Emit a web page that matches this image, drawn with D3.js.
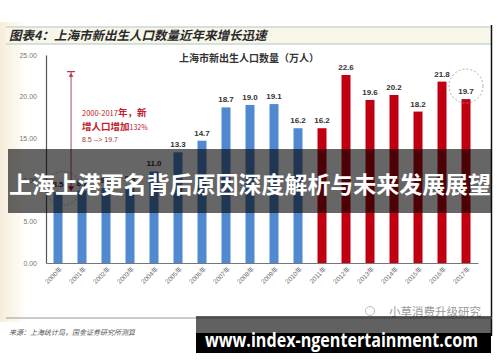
<!doctype html>
<html>
  <head>
    <meta charset="utf-8">
    <title>上海市新出生人口数量</title>
    <script src="https://cdnjs.cloudflare.com/ajax/libs/d3/7.8.5/d3.min.js"></script>
    <style>
      body { margin: 0; background: #fff; }
      svg { display: block; }
    </style>
  </head>
  <body>
    <div id="chart"></div>
    <script>
      // data (万人)
      const years = ['2000年','2001年','2002年','2003年','2004年','2005年','2006年','2007年','2008年',
                     '2009年','2010年','2011年','2012年','2013年','2014年','2015年','2016年','2017年'];
      const births = [8.5, 8.7, 9.0, 9.3, 11.0, 13.3, 14.7, 18.7, 19.0, 19.1, 16.2, 16.2, 22.6, 19.6, 20.2, 18.2, 21.8, 19.7];
      const yTicks = [0, 5, 10, 15, 20, 25];
      const redFrom = '2011年';
      const circled = ['2000年', '2017年'];

      const W = 500, H = 362;
      const svg = d3.select('#chart').append('svg')
        .attr('width', W).attr('height', H);

      // left warm edge
      const grad = svg.append('defs').append('linearGradient').attr('id', 'edge');
      grad.append('stop').attr('offset', '0%').attr('stop-color', '#f6ecda');
      grad.append('stop').attr('offset', '100%').attr('stop-color', '#fffdf8');
      svg.append('rect').attr('x', 0).attr('y', 22).attr('width', 24).attr('height', 300).attr('fill', 'url(#edge)');

      // title band
      svg.append('rect').attr('x', 6).attr('y', 27).attr('width', 486).attr('height', 17).attr('fill', '#f7f6e8');
      svg.append('line').attr('x1', 6).attr('x2', 492).attr('y1', 27).attr('y2', 27).attr('stroke', '#c9d9d2').attr('stroke-width', 1.5);
      svg.append('line').attr('x1', 6).attr('x2', 492).attr('y1', 44).attr('y2', 44).attr('stroke', '#c9d9d2').attr('stroke-width', 1.5);
      svg.append('text').attr('x', 9).attr('y', 40)
        .text('图表4：上海市新出生人口数量近年来增长迅速')
        .style('font-family', '"Noto Sans CJK SC"').style('font-size', '12.5px')
        .style('font-style', 'italic').style('font-weight', 'bold').style('fill', '#2a2a2a');

      // right border line
      svg.append('line').attr('x1', 491.5).attr('x2', 491.5).attr('y1', 25).attr('y2', 336)
        .attr('stroke', '#111').attr('stroke-width', 1.5);

      // scales
      const x = d3.scaleBand().domain(years).range([46, 478]).paddingInner(0.625).paddingOuter(0.3125);
      const y = d3.scaleLinear().domain([0, 25]).range([263, 55]);

      // chart title
      svg.append('text').attr('x', 249).attr('y', 62).attr('text-anchor', 'middle')
        .text('上海市新出生人口数量（万人）')
        .style('font-family', '"Noto Sans CJK SC"').style('font-size', '10px')
        .style('font-weight', 'bold').style('fill', '#333');

      // y axis
      const yAxis = svg.append('g').attr('transform', 'translate(46,0)')
        .call(d3.axisLeft(y).tickValues(yTicks).tickFormat(d3.format('.2f')).tickSize(0).tickPadding(9));
      yAxis.select('.domain').attr('stroke', '#555').attr('stroke-width', 1.2);
      yAxis.selectAll('text').style('font-family', 'Arial, "Liberation Sans"').style('font-size', '7px').style('fill', '#777');

      // bars
      const redIdx = years.indexOf(redFrom);
      svg.selectAll('rect.bar').data(births).join('rect').attr('class', 'bar')
        .attr('x', (d, i) => x(years[i]))
        .attr('y', d => y(d))
        .attr('width', x.bandwidth())
        .attr('height', d => y(0) - y(d))
        .attr('fill', (d, i) => i >= redIdx ? '#c00010' : '#5089d0');

      // value labels
      svg.selectAll('text.val').data(births).join('text').attr('class', 'val')
        .attr('x', (d, i) => x(years[i]) + x.bandwidth() / 2)
        .attr('y', d => y(d) - 5)
        .attr('text-anchor', 'middle')
        .text(d => d.toFixed(1))
        .style('font-family', 'Arial, "Liberation Sans"').style('font-size', '8px')
        .style('font-weight', 'bold').style('fill', '#333');

      // x axis
      const xAxis = svg.append('g').attr('transform', `translate(0,${y(0)})`)
        .call(d3.axisBottom(x).tickSize(0).tickPadding(4));
      xAxis.select('.domain').attr('stroke', '#777').attr('stroke-width', 1.2);
      xAxis.selectAll('text')
        .attr('text-anchor', 'end')
        .attr('transform', 'rotate(-45)')
        .attr('dx', '-0.2em').attr('dy', '0.6em')
        .style('font-family', 'Arial, "Noto Sans CJK SC"').style('font-size', '6.5px').style('fill', '#6f6f6f');

      // dashed circles round first and last values
      svg.selectAll('circle.hl').data(circled).join('circle').attr('class', 'hl')
        .attr('cx', d => x(d) + x.bandwidth() / 2 + (d === years[0] ? 5 : 0))
        .attr('cy', d => y(births[years.indexOf(d)]) - (d === years[0] ? 4 : 13))
        .attr('r', 17)
        .attr('fill', 'none').attr('stroke', '#999').attr('stroke-width', 0.8).attr('stroke-dasharray', '2,2');

      // growth arrow
      const ax = x(years[0]) + x.bandwidth() * 1.95;
      svg.append('line').attr('x1', ax).attr('x2', ax).attr('y1', y(23)).attr('y2', y(births[0]) - 4)
        .attr('stroke', '#9b5060').attr('stroke-width', 1);
      svg.append('line').attr('x1', ax - 4).attr('x2', ax + 4).attr('y1', y(23)).attr('y2', y(23))
        .attr('stroke', '#c03040').attr('stroke-width', 1.2);
      svg.append('path').attr('d', `M${ax - 2.5},${y(23) + 5}L${ax + 2.5},${y(23) + 5}L${ax},${y(23) + 1.5}Z`).attr('fill', '#c03040');
      svg.append('path').attr('d', `M${ax - 3},${y(births[0]) - 6}L${ax + 3},${y(births[0]) - 6}L${ax},${y(births[0]) - 1}Z`).attr('fill', '#c01030');

      // annotation text
      const note = svg.append('g').style('font-family', '"Noto Sans CJK SC"').style('fill', '#c0202c').style('font-weight', 'bold');
      note.append('text').attr('x', 82).attr('y', 116)
        .html('<tspan font-size="7.5px" font-weight="normal">2000-2017</tspan><tspan font-size="9.5px">年，新</tspan>');
      note.append('text').attr('x', 82).attr('y', 130)
        .html('<tspan font-size="9.5px">增人口增加</tspan><tspan font-size="7px" font-weight="normal">132%</tspan>');
      svg.append('text').attr('x', 82).attr('y', 142).text('8.5 --> 19.7')
        .style('font-family', 'Arial, "Liberation Sans"').style('font-size', '7px').style('fill', '#9a3a30');

      // footer
      svg.append('line').attr('x1', 6).attr('x2', 492).attr('y1', 318).attr('y2', 318).attr('stroke', '#999').attr('stroke-width', 1);
      svg.append('text').attr('x', 9).attr('y', 335).text('来源：上海统计局，国金证券研究所测算')
        .style('font-family', '"Noto Sans CJK SC"').style('font-size', '7px').style('font-style', 'italic').style('fill', '#555');
      svg.append('text').attr('x', 389).attr('y', 316).text('小草消费升级研究')
        .style('font-family', '"Noto Sans CJK SC"').style('font-size', '11.5px').style('fill', '#999');
      svg.append('circle').attr('cx', 370).attr('cy', 311).attr('r', 4.5).attr('fill', 'none').attr('stroke', '#bbb');

      // overlay banner
      svg.append('rect').attr('x', 8).attr('y', 149).attr('width', 484).attr('height', 64).attr('fill', 'rgba(0,0,0,0.6)');
      svg.append('text').attr('x', 250).attr('y', 193).attr('text-anchor', 'middle')
        .text('上海上港更名背后原因深度解析与未来发展展望')
        .attr('textLength', 482).attr('lengthAdjust', 'spacingAndGlyphs')
        .style('font-family', '"Noto Sans CJK SC"').style('font-size', '23px')
        .style('font-weight', 'bold').style('fill', '#fff');

      // url box
      svg.append('rect').attr('x', 196).attr('y', 316).attr('width', 295).attr('height', 17).attr('fill', 'rgba(0,0,0,0.62)');
      svg.append('rect').attr('x', 196).attr('y', 333).attr('width', 295).attr('height', 20).attr('fill', '#000');
      svg.append('text').attr('x', 205).attr('y', 347)
        .text('www.index-ngentertainment.com')
        .attr('textLength', 273).attr('lengthAdjust', 'spacingAndGlyphs')
        .style('font-family', '"Open Sans"').style('font-size', '20px')
        .style('font-weight', 'bold').style('fill', '#fff');
    </script>
  </body>
</html>
